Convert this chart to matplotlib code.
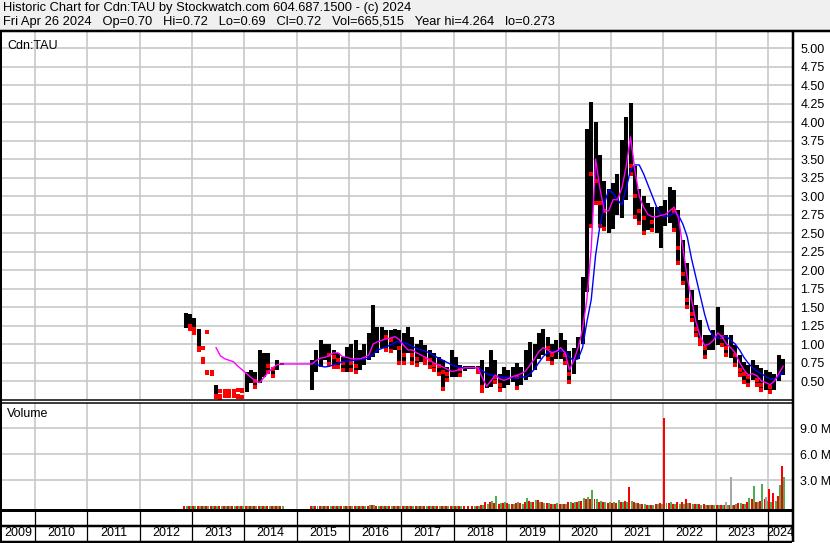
import numpy as np
import matplotlib
matplotlib.use("Agg")
import matplotlib.pyplot as plt
from matplotlib.lines import Line2D
from matplotlib.patches import Rectangle

nan = np.nan

# ---------------- data (monthly, Nov 2012 .. Apr 2024) ----------------
start_year, start_month = 2012, 11

price_hi = [1.42, 1.40,
            1.35, 1.20, 0.95, 1.16, 0.62, 0.45, 0.36, 0.36, 0.36, 0.36, 0.38, 0.38,
            0.62, 0.65, 0.62, 0.92, 0.88, 0.88, 0.69, 0.78, 0.74, nan, nan, nan,
            nan, nan, nan, 0.78, 0.92, 1.05, 1.00, 1.00, 0.92, 0.88, 0.82, 0.96,
            1.00, 1.05, 0.92, 1.00, 1.15, 1.53, 1.23, 1.23, 1.19, 1.19, 1.20, 1.19,
            1.15, 1.23, 1.10, 1.00, 1.05, 0.99, 0.92, 0.88, 0.82, 0.78, 0.69, 0.92,
            0.82, 0.72, 0.70, 0.70, 0.70, 0.70, 0.78, 0.69, 0.92, 0.78, 0.60, 0.69,
            0.65, 0.69, 0.74, 0.69, 0.92, 1.03, 1.00, 1.15, 1.20, 1.10, 1.00, 1.05,
            1.15, 1.05, 0.90, 0.95, 1.10, 1.90, 3.90, 4.27, 4.00, 3.55, 3.20, 3.10,
            3.17, 3.30, 3.76, 4.07, 4.26, 3.40, 3.10, 3.00, 2.90, 2.85, 2.85, 2.86,
            2.95, 3.12, 3.08, 2.81, 2.40, 2.10, 1.73, 1.53, 1.32, 1.12, 1.12, 1.19,
            1.50, 1.26, 1.12, 1.12, 0.99, 0.85, 0.76, 0.72, 0.78, 0.72, 0.68, 0.65,
            0.62, 0.60, 0.85, 0.80]

price_lo = [1.22, 1.20,
            1.15, 0.92, 0.76, 0.61, 0.60, 0.28, 0.27, 0.30, 0.30, 0.30, 0.28, 0.28,
            0.35, 0.47, 0.42, 0.47, 0.55, 0.62, 0.57, 0.65, 0.72, nan, nan, nan,
            nan, nan, nan, 0.38, 0.62, 0.69, 0.78, 0.73, 0.69, 0.69, 0.65, 0.62,
            0.65, 0.62, 0.65, 0.72, 0.78, 0.82, 0.88, 0.95, 0.92, 0.90, 0.92, 0.74,
            0.74, 0.88, 0.74, 0.72, 0.76, 0.74, 0.69, 0.65, 0.60, 0.39, 0.51, 0.55,
            0.55, 0.58, 0.64, 0.66, 0.66, 0.62, 0.36, 0.40, 0.42, 0.49, 0.38, 0.40,
            0.45, 0.49, 0.40, 0.45, 0.51, 0.55, 0.65, 0.80, 0.85, 0.80, 0.75, 0.80,
            0.80, 0.75, 0.48, 0.60, 0.80, 1.00, 1.70, 2.60, 2.90, 2.60, 2.55, 2.50,
            2.55, 2.75, 2.70, 2.95, 3.30, 2.72, 2.63, 2.50, 2.54, 2.54, 2.50, 2.30,
            2.60, 2.63, 2.54, 2.10, 1.82, 1.50, 1.32, 1.12, 1.00, 0.82, 0.92, 0.92,
            0.99, 0.99, 0.85, 0.81, 0.72, 0.58, 0.49, 0.45, 0.51, 0.45, 0.38, 0.38,
            0.35, 0.38, 0.50, 0.58]

price_close = [1.30, 1.25,
               1.20, 0.95, 0.80, 0.62, 0.61, 0.30, 0.30, 0.34, 0.32, 0.34, 0.30, 0.36,
               0.60, 0.60, 0.50, 0.55, 0.75, 0.70, 0.66, 0.73, 0.73, nan, nan, nan,
               nan, nan, nan, 0.60, 0.75, 0.80, 0.88, 0.85, 0.82, 0.78, 0.75, 0.78,
               0.75, 0.70, 0.75, 0.82, 0.95, 1.05, 1.10, 1.15, 1.10, 1.05, 1.12, 0.95,
               0.85, 1.00, 0.85, 0.80, 0.85, 0.80, 0.78, 0.72, 0.70, 0.62, 0.60, 0.65,
               0.68, 0.66, 0.68, 0.68, 0.68, 0.66, 0.42, 0.45, 0.60, 0.55, 0.45, 0.50,
               0.55, 0.58, 0.55, 0.60, 0.65, 0.75, 0.80, 1.00, 1.00, 0.95, 0.85, 0.95,
               0.95, 0.85, 0.60, 0.85, 1.00, 1.80, 3.60, 3.30, 3.20, 2.90, 2.80, 2.90,
               2.90, 3.00, 3.50, 3.80, 3.40, 3.00, 2.80, 2.70, 2.70, 2.65, 2.70, 2.70,
               2.75, 2.90, 2.80, 2.30, 1.95, 1.60, 1.40, 1.20, 1.05, 0.95, 1.00, 1.05,
               1.20, 1.10, 0.95, 0.95, 0.85, 0.65, 0.60, 0.55, 0.60, 0.52, 0.45, 0.45,
               0.42, 0.50, 0.70, 0.72]

ma_fast = [nan, nan,
           nan, nan, nan, nan, nan, 0.95, 0.84, 0.80, 0.78, 0.76, 0.70, 0.65,
           0.60, 0.55, 0.50, 0.48, 0.55, 0.62, 0.68, 0.72, 0.73, 0.73, 0.73, 0.73,
           0.73, 0.73, 0.73, 0.73, 0.78, 0.81, 0.82, 0.85, 0.88, 0.88, 0.83, 0.82,
           0.80, 0.80, 0.80, 0.82, 0.85, 1.00, 1.03, 1.05, 1.07, 1.08, 1.10, 1.06,
           0.98, 0.92, 0.92, 0.88, 0.85, 0.82, 0.78, 0.74, 0.72, 0.69, 0.66, 0.63,
           0.64, 0.66, 0.68, 0.68, 0.68, 0.68, 0.55, 0.43, 0.50, 0.58, 0.53, 0.51,
           0.53, 0.56, 0.58, 0.60, 0.64, 0.72, 0.80, 0.90, 0.95, 0.92, 0.88, 0.90,
           0.95, 0.88, 0.65, 0.78, 0.95, 1.20, 1.60, 2.30, 3.50, 3.10, 2.80, 2.80,
           2.95, 2.95, 3.10, 3.40, 3.80, 3.35, 3.00, 2.85, 2.75, 2.72, 2.72, 2.74,
           2.75, 2.80, 2.85, 2.70, 2.30, 1.90, 1.60, 1.30, 1.10, 0.98, 1.00, 1.05,
           1.15, 1.10, 1.00, 0.95, 0.88, 0.75, 0.65, 0.58, 0.60, 0.57, 0.50, 0.48,
           0.45, 0.50, 0.60, 0.70]

ma_slow = [nan, nan,
           nan, nan, nan, nan, nan, nan, nan, nan, nan, nan, nan, nan,
           nan, nan, nan, nan, nan, nan, nan, nan, nan, nan, nan, nan,
           nan, nan, nan, 0.74, 0.73, 0.70, 0.69, 0.70, 0.72, 0.74, 0.76, 0.77,
           0.78, 0.78, 0.79, 0.80, 0.81, 0.86, 0.92, 0.94, 0.96, 0.99, 1.02, 1.03,
           1.02, 1.00, 0.97, 0.94, 0.92, 0.90, 0.88, 0.84, 0.81, 0.78, 0.75, 0.72,
           0.70, 0.68, 0.68, 0.68, 0.68, 0.68, 0.64, 0.60, 0.58, 0.57, 0.56, 0.55,
           0.55, 0.54, 0.54, 0.55, 0.56, 0.60, 0.66, 0.75, 0.83, 0.88, 0.90, 0.90,
           0.90, 0.90, 0.82, 0.78, 0.80, 0.95, 1.30, 1.60, 2.20, 2.60, 2.90, 3.08,
           3.04, 2.95, 2.88, 3.10, 3.35, 3.42, 3.42, 3.30, 3.15, 3.00, 2.85, 2.74,
           2.72, 2.74, 2.77, 2.74, 2.62, 2.45, 2.15, 1.90, 1.65, 1.40, 1.20, 1.10,
           1.08, 1.10, 1.10, 1.05, 1.00, 0.92, 0.82, 0.74, 0.68, 0.63, 0.60, 0.56,
           0.53, 0.52, 0.56, 0.62]

# thinly traded months: only isolated trades (drawn as dots)
thin_trading = ["2013-03", "2013-04", "2013-05", "2013-07", "2013-08",
                "2013-09", "2013-10", "2013-11", "2013-12"]

# volume, millions of shares (up-day / down-day / unchanged)
vol_up = [0.03, 0.03,
          0.04, 0.03, 0.02, 0.03, 0.02, 0.05, 0.03, 0.02, 0.03, 0.02, 0.04, 0.03,
          0.05, 0.06, 0.04, 0.07, 0.05, 0.04, 0.03, 0.05, 0.02, 0, 0, 0,
          0, 0, 0, 0.06, 0.07, 0.08, 0.06, 0.05, 0.06, 0.05, 0.06, 0.07,
          0.06, 0.05, 0.07, 0.08, 0.10, 0.12, 0.09, 0.08, 0.07, 0.06, 0.08, 0.07,
          0.07, 0.08, 0.06, 0.05, 0.06, 0.05, 0.04, 0.05, 0.04, 0.05, 0.06, 0.05,
          0.05, 0.03, 0, 0, 0.02, 0.03, 0.15, 0.30, 0.60, 1.15, 0.35, 0.45,
          0.30, 0.25, 0.55, 0.30, 0.92, 0.50, 0.70, 0.45, 0.40, 0.35, 0.30, 0.35,
          0.30, 0.25, 0.45, 0.50, 0.60, 0.92, 1.05, 1.88, 0.90, 0.60, 0.50, 0.55,
          0.50, 0.73, 0.45, 0.50, 0.60, 0.40, 0.30, 0.25, 0.20, 0.20, 0.25, 0.30,
          0.40, 0.45, 0.30, 0.25, 0.30, 0.35, 0.30, 0.25, 0.20, 0.20, 0.20, 0.15,
          0.20, 0.15, 0.20, 0.20, 0.25, 0.35, 0.30, 0.92, 2.34, 0.50, 2.57, 0.60,
          0.50, 0.60, 2.45, 3.40]

vol_down = [0.03, 0.03,
            0.05, 0.04, 0.05, 0.06, 0.04, 0.06, 0.05, 0.04, 0.05, 0.04, 0.05, 0.04,
            0.04, 0.05, 0.06, 0.05, 0.04, 0.05, 0.04, 0.03, 0.02, 0, 0, 0,
            0, 0, 0, 0.07, 0.06, 0.05, 0.07, 0.06, 0.05, 0.06, 0.05, 0.06,
            0.07, 0.08, 0.06, 0.07, 0.09, 0.10, 0.08, 0.07, 0.08, 0.07, 0.06, 0.08,
            0.06, 0.07, 0.07, 0.06, 0.05, 0.06, 0.05, 0.06, 0.05, 0.06, 0.05, 0.06,
            0.04, 0.04, 0.02, 0.02, 0.02, 0.03, 0.20, 0.45, 0.50, 0.40, 0.30, 0.35,
            0.35, 0.30, 0.40, 0.35, 0.50, 0.60, 0.45, 0.73, 0.50, 0.35, 0.30, 0.30,
            0.25, 0.30, 0.50, 0.40, 0.50, 0.60, 0.80, 0.90, 0.80, 0.50, 0.45, 0.40,
            0.35, 0.40, 0.50, 0.60, 2.26, 0.45, 0.35, 0.30, 0.20, 0.20, 0.30, 0.35,
            10.2, 0.35, 0.30, 0.45, 0.55, 0.85, 0.40, 0.30, 0.25, 0.25, 0.20, 0.20,
            0.20, 0.20, 0.15, 0.20, 0.20, 0.40, 0.30, 0.45, 0.80, 0.50, 0.60, 0.80,
            2.00, 1.50, 1.20, 4.65]

vol_flat = [0, 0,
            0, 0, 0, 0, 0, 0, 0, 0, 0, 0, 0, 0,
            0, 0, 0, 0, 0, 0, 0, 0, 0, 0, 0, 0,
            0, 0, 0, 0, 0, 0, 0, 0, 0, 0, 0, 0,
            0, 0, 0, 0, 0, 0, 0, 0, 0, 0, 0, 0,
            0, 0, 0, 0, 0, 0, 0, 0, 0, 0, 0, 0,
            0, 0, 0, 0, 0, 0, 0, 0, 0, 0, 0, 0,
            0, 0, 0, 0, 0, 0, 0, 0, 0, 0, 0, 0,
            0, 0, 0, 0, 0, 0, 0, 0, 0, 0, 0, 0,
            0, 0, 0, 0, 0, 0, 0, 0, 0, 0, 0, 0,
            0, 0, 0, 0, 0, 0, 0, 0, 0, 0, 0, 0,
            0, 0, 0.53, 3.40, 0, 0, 0, 0, 0, 0, 0, 1.10,
            0, 0, 0, 0]

price_ticks = [0.50, 0.75, 1.00, 1.25, 1.50, 1.75, 2.00, 2.25, 2.50, 2.75,
               3.00, 3.25, 3.50, 3.75, 4.00, 4.25, 4.50, 4.75, 5.00]
volume_ticks = [3.0, 6.0, 9.0]
years = list(range(2009, 2025))

header1 = "Historic Chart for Cdn:TAU by Stockwatch.com 604.687.1500 - (c) 2024"
header2 = ("Fri Apr 26 2024   Op=0.70   Hi=0.72   Lo=0.69   Cl=0.72   "
           "Vol=665,515   Year hi=4.264   lo=0.273")

# ---------------- figure ----------------
plt.rcParams['font.family'] = ['Liberation Sans', 'DejaVu Sans']
W, H = 830, 543
fig = plt.figure(figsize=(W / 100, H / 100), dpi=100)
fig.patch.set_facecolor('white')


def box(x0, y0, x1, y1):
    return [x0 / W, 1 - y1 / H, (x1 - x0) / W, (y1 - y0) / H]


n = len(price_hi)
t = np.array([start_year + (start_month - 1 + i) // 12
              + (((start_month - 1 + i) % 12) + 0.5) / 12 for i in range(n)])
labels_ym = ["%d-%02d" % (start_year + (start_month - 1 + i) // 12,
                          (start_month - 1 + i) % 12 + 1) for i in range(n)]
hi = np.array(price_hi, float)
lo = np.array(price_lo, float)
cl = np.array(price_close, float)

XL = (2009.35, 2024.46)
GRID = '#c8c8c8'
FS = 9

# price panel
axp = fig.add_axes(box(1, 31, 792, 399))
axp.set_xlim(*XL)
axp.set_ylim(0.257, 5.23)
for p in price_ticks:
    axp.axhline(p, color=GRID, lw=1.2, zorder=0)
for y in years[1:]:
    axp.axvline(y, color=GRID, lw=1.2, zorder=0)

thin = np.array([lab in thin_trading for lab in labels_ym])
ok = np.isfinite(hi)
solid = ok & ~thin
axp.vlines(t[solid], lo[solid], hi[solid], color='black', lw=2.9, zorder=2)
prev = np.concatenate([[np.nan], cl[:-1]])
down = solid & (cl < prev)
axp.plot(t[down], cl[down], 's', color='#ff0000', ms=2.2, mew=0, zorder=3)
axp.plot(t[down], lo[down], 's', color='#ff0000', ms=2.2, mew=0, zorder=3)
for arr in (hi, lo, cl):
    axp.plot(t[thin], arr[thin], 's', color='#ff0000', ms=2.2, mew=0, zorder=3)

axp.plot(t, ma_slow, color='#0000ff', lw=1.0, zorder=4)
axp.plot(t, ma_fast, color='#ff00ff', lw=1.0, zorder=5)

axp.yaxis.tick_right()
axp.set_yticks(price_ticks)
axp.set_yticklabels(["%.2f" % p for p in price_ticks], fontsize=FS)
axp.tick_params(axis='y', length=0, pad=6)
axp.set_xticks([])
for s in axp.spines.values():
    s.set_visible(False)
axp.text(0.008, 0.958, "Cdn:TAU", transform=axp.transAxes, fontsize=FS,
         va='center', ha='left')

# volume panel
VB = -0.31
axv = fig.add_axes(box(1, 403, 792, 509))
axv.set_xlim(*XL)
axv.set_ylim(VB, 11.92)
for v in volume_ticks:
    axv.axhline(v, color=GRID, lw=1.2, zorder=0)
for y in years[1:]:
    axv.axvline(y, color=GRID, lw=1.2, zorder=0)
bw = 0.038


def vbars(x, vals, color, z):
    vals = np.array(vals, float)
    h = np.where(vals > 0, vals - VB, 0)
    axv.bar(x, h, bottom=VB, width=bw, color=color, lw=0, zorder=z)


vbars(t - 0.021, vol_down, '#ff0000', 2)
vbars(t + 0.021, vol_up, '#4caf50', 3)
vbars(t, vol_flat, '#a8a8a8', 3)
axv.yaxis.tick_right()
axv.set_yticks(volume_ticks)
axv.set_yticklabels(["%.1f M" % v for v in volume_ticks], fontsize=FS)
axv.tick_params(axis='y', length=0, pad=6)
axv.set_xticks([])
for s in axv.spines.values():
    s.set_visible(False)
axv.text(0.008, 0.9, "Volume", transform=axv.transAxes, fontsize=FS,
         va='center', ha='left')

# year rows
axy = fig.add_axes(box(1, 509, 792, 541))
axy.set_xlim(*XL)
axy.set_ylim(0, 1)
axy.axis('off')
for y in years[1:]:
    axy.axvline(y, color='black', lw=0.9)
for y in years:
    a = max(y, XL[0])
    b = min(y + 1, XL[1])
    axy.text((a + b) / 2, 0.24, str(y), ha='center', va='center', fontsize=FS)

# overlay for frame and header
ov = fig.add_axes([0, 0, 1, 1], zorder=10)
ov.set_xlim(0, W)
ov.set_ylim(H, 0)
ov.axis('off')
ov.patch.set_alpha(0)
ov.add_patch(Rectangle((0, 0), W, 30, color='#f0f0f0', zorder=0))
ov.text(3, 8.5, header1, fontsize=9.3, va='center', ha='left')
ov.text(3, 22, header2, fontsize=9.3, va='center', ha='left')


def hline(y, x0, x1, lw):
    ov.add_line(Line2D([x0, x1], [y, y], color='black', lw=lw * 0.72,
                       solid_capstyle='butt'))


def vline(x, y0, y1, lw):
    ov.add_line(Line2D([x, x], [y0, y1], color='black', lw=lw * 0.72,
                       solid_capstyle='butt'))


hline(30.5, 0, W, 2.5)
hline(399.5, 0, 792, 1.5)
hline(403, 0, 792, 1.5)
hline(509.5, 0, 792, 3)
hline(526, 0, 792, 2.5)
hline(541.5, 0, 792, 2.5)
vline(0.8, 30, 542, 2)
vline(792.5, 30, 542, 2.5)

fig.savefig("out.png", dpi=100)
